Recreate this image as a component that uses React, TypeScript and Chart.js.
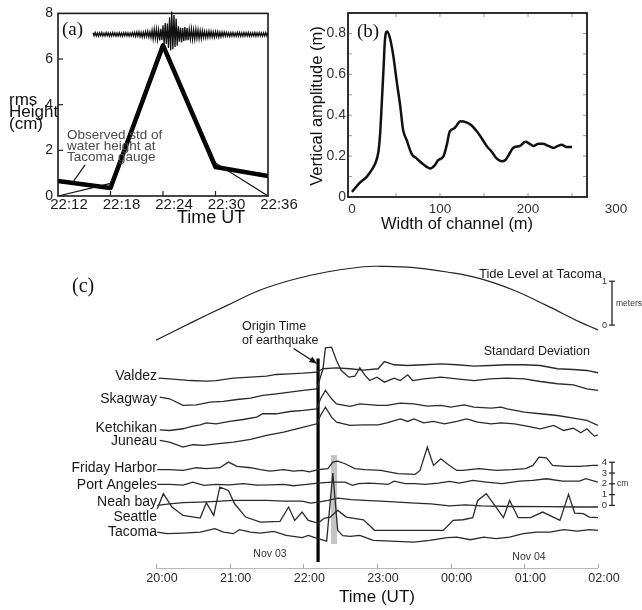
import React, { useEffect, useRef } from 'react';
import { Chart, registerables } from 'chart.js';
Chart.register(...registerables);

const SANS = '"Liberation Sans", Arial, Helvetica, sans-serif';
const SERIF = '"Liberation Serif", "Times New Roman", serif';
const PAGE_W = 642;
const PAGE_H = 610;

// ---------------- Panel (a) ----------------
const aTimes = [12, 18, 24, 30, 36]; // minutes after 22:00
const aObservedStd = [0.66, 0.35, 6.6, 1.27, 0.87];
const aModelStd = [0, 0.55, 6.6, 1.45, 0];
const aLeader = [[15.1, 1.36], [13.7, 0.61]];
const seisStartMin = 16;
const seisStepMin = 0.125;
const seisLevel = 7.08;
const seisTrace = [
  0.07, -0.06, 0.08, -0.07, 0.06, -0.08, 0.07, -0.06, 0.08, -0.07,
  0.06, -0.07, 0.08, -0.06, 0.07, -0.08, 0.06, -0.07, 0.08, -0.06,
  0.07, -0.08, 0.06, -0.07, 0.08, -0.07, 0.06, -0.08, 0.07, -0.06,
  0.08, -0.07, 0.07, -0.08, 0.06, -0.07, 0.08, -0.07, 0.09,
  -0.09, 0.1, -0.08, 0.11, -0.1, 0.09, -0.12, 0.1, -0.11, 0.12, -0.1, 0.13, -0.12, 0.11, -0.14,
  0.18, -0.2, 0.22, -0.18, 0.24, -0.22, 0.2, -0.26, 0.25, -0.24,
  0.4, -0.45, 0.5, -0.42, 0.48,
  -0.6, 0.75, -0.7, 1.0, -0.65, 0.85, -0.55, 0.7, -0.5,
  0.35, -0.32, 0.3, -0.35, 0.28, -0.3, 0.32, -0.26, 0.28, -0.25,
  0.22, -0.2, 0.24, -0.22, 0.2, -0.21, 0.22, -0.18, 0.2, -0.19, 0.17, -0.18, 0.16,
  -0.14, 0.13, -0.15, 0.12, -0.13, 0.14, -0.12, 0.13, -0.12, 0.11,
  -0.13, 0.12, -0.1, 0.11, -0.12, 0.1, -0.11, 0.1, -0.09, 0.1,
  -0.08, 0.09, -0.08, 0.07, -0.09, 0.08, -0.07, 0.08, -0.08, 0.07,
  -0.08, 0.09, -0.07, 0.08, -0.08, 0.07, -0.08, 0.08, -0.07, 0.08,
  -0.07, 0.08, -0.08, 0.07, -0.08, 0.07, -0.07, 0.08, -0.08, 0.07,
  -0.07, 0.08, -0.07, 0.07, -0.08, 0.07, -0.07, 0.08, -0.07, 0.07,
];

// ---------------- Panel (b) ----------------
const bChannelWidth = [0, 9, 17, 22, 26, 30, 32, 34, 36, 37.5, 40, 43, 47, 51, 55, 58, 62, 68, 73, 81, 89, 94, 98, 104, 108, 111, 116, 119, 123, 130, 136, 142, 147, 153, 159, 164, 170, 174, 180, 183, 191, 197, 202, 206, 212, 217, 223, 229, 234, 238, 244, 250];
const bVerticalAmp = [0.025, 0.07, 0.1, 0.13, 0.16, 0.22, 0.31, 0.47, 0.64, 0.77, 0.81, 0.78, 0.69, 0.56, 0.44, 0.33, 0.28, 0.21, 0.19, 0.16, 0.14, 0.155, 0.18, 0.2, 0.26, 0.32, 0.335, 0.35, 0.37, 0.365, 0.35, 0.32, 0.29, 0.25, 0.22, 0.19, 0.175, 0.18, 0.22, 0.24, 0.25, 0.27, 0.26, 0.25, 0.26, 0.26, 0.25, 0.24, 0.25, 0.255, 0.245, 0.245];
const bXTicks = [0, 100, 200, 300];

// ---------------- Panel (c) ----------------
// x: minutes after 20:00 UT (Nov 03); y: stacked std deviation level (cm)
const cHourLabels = ['20:00', '21:00', '22:00', '23:00', '00:00', '01:00', '02:00'];
const tideMinutes = [0, 30, 58, 85, 112, 139, 169, 182, 210, 237, 264, 291, 318, 345, 360];
const tideMeters = [-0.34, 0.075, 0.45, 0.8, 1.04, 1.21, 1.33, 1.34, 1.31, 1.21, 1.06, 0.8, 0.45, 0.075, -0.11];
const tideBaseLevel = 16.7; // where 0 m sits on the stacked axis
const tideUnitsPerMeter = 4.07;

const valdez = [[2, 11.79], [11, 11.73], [28, 11.57], [41, 11.51], [49, 11.57], [63, 11.79], [77, 11.88], [90, 11.97], [98, 12.13], [109, 12.19], [120, 12.25], [131, 12.34], [136, 12.66], [147, 12.75], [158, 12.66], [169, 12.53], [181, 12.66], [186, 13.33], [194, 13.03], [205, 12.96], [218, 13.03], [232, 13.12], [245, 13.03], [259, 12.9], [272, 12.96], [286, 13.03], [300, 13.03], [313, 12.96], [327, 12.66], [340, 12.59], [351, 12.5], [360, 12.29]];
const skagway = [[3, 10.03], [11, 9.88], [22, 9.26], [33, 9.32], [44, 9.56], [55, 9.63], [66, 9.81], [77, 9.94], [87, 10.19], [98, 10.34], [109, 10.49], [120, 10.65], [131, 10.8], [136, 12.66], [138, 14.6], [143, 14.66], [147, 13.43], [151, 12.5], [157, 11.88], [162, 11.97], [166, 12.75], [170, 12.1], [174, 11.57], [180, 11.88], [186, 11.42], [194, 11.79], [199, 11.57], [205, 12.1], [209, 11.57], [218, 11.73], [232, 11.88], [245, 11.73], [259, 11.57], [272, 11.73], [286, 11.79], [300, 11.73], [313, 11.48], [327, 11.27], [340, 11.17], [351, 10.8], [360, 10.65]];
const ketchikan = [[3, 7.0], [11, 6.94], [22, 7.1], [30, 7.35], [36, 7.47], [41, 7.65], [49, 7.56], [60, 7.78], [71, 7.96], [82, 8.18], [87, 8.49], [98, 8.49], [109, 8.7], [120, 8.8], [131, 8.95], [134, 9.88], [138, 10.65], [143, 9.88], [147, 9.41], [158, 9.17], [166, 9.41], [181, 9.26], [188, 9.26], [199, 9.47], [210, 9.41], [221, 9.2], [232, 9.26], [240, 9.1], [251, 9.32], [259, 9.1], [273, 9.01], [281, 9.1], [286, 8.95], [300, 8.64], [313, 8.49], [327, 8.33], [340, 8.08], [351, 7.87], [360, 7.41]];
const juneau = [[3, 6.02], [11, 5.86], [22, 5.4], [30, 5.62], [39, 5.56], [49, 5.71], [63, 5.86], [77, 6.11], [90, 6.48], [104, 6.79], [117, 7.16], [131, 7.56], [134, 8.33], [138, 9.1], [143, 8.18], [147, 7.71], [158, 7.41], [169, 7.47], [181, 7.47], [188, 7.65], [199, 8.02], [205, 7.78], [210, 8.02], [218, 7.65], [226, 7.78], [235, 7.56], [245, 7.78], [253, 8.02], [262, 7.72], [273, 7.56], [281, 7.65], [292, 7.56], [302, 7.35], [313, 7.1], [324, 7.41], [332, 6.94], [340, 7.16], [346, 6.73], [351, 7.1], [357, 6.42], [360, 6.54]];
const fridayHarbor = [[1, 3.31], [11, 3.31], [22, 3.24], [33, 3.49], [41, 3.4], [52, 3.49], [59, 4.01], [66, 3.61], [77, 3.49], [85, 3.31], [93, 3.18], [104, 3.31], [112, 3.18], [119, 3.24], [125, 3.1], [132, 3.31], [140, 3.4], [144, 4.01], [148, 4.1], [154, 3.86], [162, 3.4], [170, 3.31], [183, 3.24], [197, 2.94], [211, 2.87], [215, 3.24], [221, 5.4], [226, 3.7], [232, 4.32], [239, 3.7], [245, 3.24], [250, 3.24], [263, 3.4], [277, 3.24], [290, 3.31], [301, 3.4], [307, 3.7], [312, 4.47], [318, 4.41], [323, 3.7], [334, 3.61], [345, 3.61], [356, 3.7], [360, 3.7]];
const portAngeles = [[1, 1.94], [11, 1.94], [22, 1.88], [30, 2.16], [39, 1.85], [49, 1.94], [60, 1.91], [71, 2.01], [82, 1.88], [93, 1.91], [104, 1.94], [112, 1.82], [119, 1.91], [132, 2.07], [143, 2.16], [154, 2.16], [160, 1.85], [165, 2.01], [173, 2.07], [181, 2.01], [189, 1.94], [194, 2.25], [203, 2.01], [211, 2.01], [219, 1.94], [230, 2.07], [239, 2.22], [247, 2.07], [258, 2.31], [269, 2.16], [282, 2.01], [296, 2.25], [307, 2.31], [318, 2.47], [331, 2.25], [345, 2.25], [350, 2.47], [360, 2.16]];
const neahBay = [[1, 0], [11, 0.15], [22, 0.25], [36, 0.31], [49, 0.37], [63, 0.46], [77, 0.46], [90, 0.46], [104, 0.4], [119, 0.4], [126, 0.22], [132, 0.31], [140, 0.46], [148, 0.68], [159, 0.53], [170, 0.46], [183, 0.4], [197, 0.31], [211, 0.22], [224, 0.15], [239, -0.05], [252, 0.05], [265, -0.05], [290, -0.1], [318, -0.12], [345, -0.15], [360, -0.15]];
const seattle = [[1, -0.31], [6, 1.08], [13, -0.15], [22, -0.93], [36, -1.17], [41, 0.25], [47, -0.93], [52, 1.69], [59, 1.39], [64, 0.15], [73, -1.08], [85, -1.55], [101, -1.48], [108, -0.15], [113, -1.39], [119, -0.62], [124, -1.39], [132, -1.64], [137, -1.2], [142, -1.08], [148, -0.46], [155, -1.08], [169, -1.33], [178, -2.31], [196, -2.31], [234, -2.31], [242, -1.39], [250, -1.33], [258, -1.14], [262, 0.46], [269, 1.08], [283, -1.14], [288, 0.46], [295, -1.14], [305, -1.14], [315, -0.62], [329, -1.39], [336, 1.02], [341, -0.71], [348, -0.77], [353, -1.08], [360, -1.14]];
const tacoma = [[1, -2.47], [9, -2.62], [22, -2.56], [36, -2.47], [48, -2.16], [55, -2.47], [63, -2.62], [68, -2.25], [77, -2.47], [85, -2.56], [96, -2.41], [106, -2.78], [119, -2.99], [124, -2.78], [132, -3.08], [139, -3.31], [144, 2.99], [148, -2.31], [152, -2.8], [158, -2.87], [166, -2.78], [177, -3.24], [196, -3.33], [210, -3.4], [223, -3.24], [237, -2.99], [245, -2.94], [256, -3.18], [267, -2.94], [277, -3.08], [288, -2.94], [299, -2.62], [310, -2.47], [321, -2.47], [332, -2.25], [343, -2.38], [353, -2.25], [360, -2.31]];

const stationNames = ['Valdez', 'Skagway', 'Ketchikan', 'Juneau', 'Friday Harbor', 'Port Angeles', 'Neah bay', 'Seattle', 'Tacoma'];
const stationSeries = [valdez, skagway, ketchikan, juneau, fridayHarbor, portAngeles, neahBay, seattle, tacoma];
const stationLabelLevel = [11.94, 9.86, 7.13, 5.93, 3.43, 1.85, 0.28, -1.11, -2.5];

const originMinute = 132;
const originTop = 13.6;
const originBottom = -5.25;
const originArrow = [[112, 14.54], [131, 13.15]];
const bandStart = 142.5;
const bandEnd = 147.5;
const bandTop = 4.66;
const bandBottom = -3.58;
const cmBarValues = [0, 1, 2, 3, 4];

// ---------------- helpers ----------------
function txt(ctx: any, s: string, x: number, y: number, size: number, align: any = 'left', color = '#111', family = SANS) {
  ctx.save();
  ctx.font = `${size}px ${family}`;
  ctx.fillStyle = color;
  ctx.textAlign = align;
  ctx.textBaseline = 'middle';
  ctx.fillText(s, x, y);
  ctx.restore();
}
function line(ctx: any, x1: number, y1: number, x2: number, y2: number, color = '#111', w = 1) {
  ctx.save();
  ctx.strokeStyle = color;
  ctx.lineWidth = w;
  ctx.beginPath();
  ctx.moveTo(x1, y1);
  ctx.lineTo(x2, y2);
  ctx.stroke();
  ctx.restore();
}
const pts = (xs: number[], ys: number[]) => xs.map((x, i) => ({ x, y: ys[i] }));
const pairs = (a: number[][]) => a.map(([x, y]) => ({ x, y }));
const baseOpts = {
  responsive: false,
  animation: false,
  devicePixelRatio: 1,
  events: [],
  plugins: { legend: { display: false }, tooltip: { enabled: false }, title: { display: false } },
  elements: { point: { radius: 0 }, line: { tension: 0 } },
};

// ---------------- configs ----------------
function configA(): any {
  const plugin = {
    id: 'panelA',
    afterDraw(chart: any) {
      const { ctx, chartArea: ca, scales: { x, y } } = chart;
      ctx.save();
      ctx.strokeStyle = '#1a1a1a';
      ctx.lineWidth = 1.6;
      ctx.strokeRect(ca.left, ca.top, ca.right - ca.left, ca.bottom - ca.top);
      ctx.restore();
      [2, 4, 6].forEach((v) => line(ctx, ca.left, y.getPixelForValue(v), ca.left + 5, y.getPixelForValue(v), '#222', 1.2));
      [18, 24, 30].forEach((v) => line(ctx, x.getPixelForValue(v), ca.bottom, x.getPixelForValue(v), ca.bottom - 5, '#222', 1.2));
      line(ctx, x.getPixelForValue(aLeader[0][0]), y.getPixelForValue(aLeader[0][1]), x.getPixelForValue(aLeader[1][0]), y.getPixelForValue(aLeader[1][1]), '#222', 1.3);
      txt(ctx, '(a)', 62, 30, 19, 'left', '#111', SERIF);
      txt(ctx, 'rms', 9, 100, 17);
      txt(ctx, 'Height', 9, 112, 17);
      txt(ctx, '(cm)', 9, 124, 17);
      txt(ctx, 'Observed std of', 67, 135, 13.5, 'left', '#4a4a4a');
      txt(ctx, 'water height at', 67, 146, 13.5, 'left', '#4a4a4a');
      txt(ctx, 'Tacoma gauge', 67, 157, 13.5, 'left', '#4a4a4a');
      txt(ctx, 'Time UT', 177, 218, 18);
    },
  };
  return {
    type: 'line',
    data: {
      datasets: [
        { data: seisTrace.map((d, i) => ({ x: seisStartMin + i * seisStepMin, y: seisLevel + d })), borderColor: '#111', borderWidth: 1.3, clip: false },
        { data: pts(aTimes, aModelStd), borderColor: '#111', borderWidth: 1.2 },
        { data: pts(aTimes, aObservedStd), borderColor: '#000', borderWidth: 4.5, borderJoinStyle: 'round' },
      ],
    },
    options: {
      ...baseOpts,
      layout: { padding: { left: 28, right: 374, top: 13, bottom: 384 } },
      scales: {
        x: {
          type: 'linear', min: 12, max: 36,
          grid: { display: false, drawTicks: false }, border: { display: false },
          ticks: { stepSize: 6, autoSkip: false, maxRotation: 0, labelOffset: 11, padding: 0, color: '#1a1a1a', font: { size: 15, family: SANS }, callback: (v: number) => '22:' + v },
          afterFit: (s: any) => { s.height = 30; },
        },
        y: {
          min: 0, max: 8,
          grid: { display: false, drawTicks: false }, border: { display: false },
          ticks: { stepSize: 2, padding: 5, color: '#1a1a1a', font: { size: 14, family: SANS } },
          afterFit: (s: any) => { s.width = 30; },
        },
      },
    },
    plugins: [plugin],
  };
}

function configB(): any {
  const plugin = {
    id: 'panelB',
    afterDraw(chart: any) {
      const { ctx, chartArea: ca, scales: { x, y } } = chart;
      for (let v = 0.1; v < 0.89; v += 0.1) {
        const py = y.getPixelForValue(v);
        line(ctx, ca.left, py, ca.left + 4, py, '#9a9a9a', 1);
        line(ctx, ca.right, py, ca.right - 4, py, '#9a9a9a', 1);
      }
      for (let v = 50; v < 260; v += 50) {
        const px = x.getPixelForValue(v);
        line(ctx, px, ca.top, px, ca.top + 4, '#9a9a9a', 1);
        line(ctx, px, ca.bottom, px, ca.bottom - 4, '#9a9a9a', 1);
      }
      ctx.save();
      ctx.strokeStyle = '#1a1a1a';
      ctx.lineWidth = 1.8;
      ctx.strokeRect(ca.left, ca.top, ca.right - ca.left, ca.bottom - ca.top);
      ctx.restore();
      bXTicks.forEach((v) => txt(ctx, String(v), x.getPixelForValue(v), 209, 13.5, 'center', '#333'));
      txt(ctx, '(b)', 357, 32, 19, 'left', '#111', SERIF);
      ctx.save();
      ctx.translate(317, 106);
      ctx.rotate(-Math.PI / 2);
      txt(ctx, 'Vertical amplitude (m)', 0, 0, 16.5, 'center', '#111');
      ctx.restore();
      txt(ctx, 'Width of channel (m)', 457, 224, 16.5, 'center', '#111');
    },
  };
  return {
    type: 'line',
    data: { datasets: [{ data: pts(bChannelWidth, bVerticalAmp), borderColor: '#111', borderWidth: 2.5, cubicInterpolationMode: 'monotone' }] },
    options: {
      ...baseOpts,
      layout: { padding: { left: 318, right: 55, top: 13, bottom: 413 } },
      scales: {
        x: {
          type: 'linear', min: -4.5, max: 267,
          grid: { display: false, drawTicks: false }, border: { display: false },
          ticks: { display: false },
          afterFit: (s: any) => { s.height = 0; },
        },
        y: {
          min: 0, max: 0.9,
          grid: { display: false, drawTicks: false }, border: { display: false },
          ticks: { stepSize: 0.2, includeBounds: false, padding: 2, color: '#333', font: { size: 14, family: SANS }, callback: (v: number) => (v === 0 ? '0' : v.toFixed(1)) },
          afterFit: (s: any) => { s.width = 30; },
        },
      },
    },
    plugins: [plugin],
  };
}

function configC(): any {
  const plugin = {
    id: 'panelC',
    beforeDatasetsDraw(chart: any) {
      const { ctx, scales: { x, y } } = chart;
      const x1 = x.getPixelForValue(bandStart);
      const x2 = x.getPixelForValue(bandEnd);
      const y1 = y.getPixelForValue(bandTop);
      const y2 = y.getPixelForValue(bandBottom);
      ctx.save();
      ctx.fillStyle = '#c4c4c4';
      ctx.fillRect(x1, y1, x2 - x1, y2 - y1);
      ctx.restore();
    },
    afterDraw(chart: any) {
      const { ctx, chartArea: ca, scales: { x, y } } = chart;
      line(ctx, ca.left, ca.bottom + 0.5, ca.right, ca.bottom + 0.5, '#b8b8b8', 1);
      for (let m = 0; m <= 360; m += 60) {
        const px = Math.round(x.getPixelForValue(m)) + 0.5;
        line(ctx, px, ca.bottom - 4, px, ca.bottom, '#a8a8a8', 1);
      }
      stationNames.forEach((n, i) => txt(ctx, n, ca.left + 1, y.getPixelForValue(stationLabelLevel[i]), 14, 'right', '#1a1a1a'));
      const ax1 = x.getPixelForValue(originArrow[0][0]);
      const ay1 = y.getPixelForValue(originArrow[0][1]);
      const ax2 = x.getPixelForValue(originArrow[1][0]);
      const ay2 = y.getPixelForValue(originArrow[1][1]);
      line(ctx, ax1, ay1, ax2, ay2, '#111', 1.3);
      const ang = Math.atan2(ay2 - ay1, ax2 - ax1);
      ctx.save();
      ctx.fillStyle = '#111';
      ctx.beginPath();
      ctx.moveTo(ax2, ay2);
      ctx.lineTo(ax2 - 8 * Math.cos(ang - 0.4), ay2 - 8 * Math.sin(ang - 0.4));
      ctx.lineTo(ax2 - 8 * Math.cos(ang + 0.4), ay2 - 8 * Math.sin(ang + 0.4));
      ctx.closePath();
      ctx.fill();
      ctx.restore();
      const bx = ca.right + 14;
      const t0 = y.getPixelForValue(tideBaseLevel);
      const t1 = y.getPixelForValue(tideBaseLevel + tideUnitsPerMeter);
      line(ctx, bx, t0, bx, t1, '#222', 1.3);
      line(ctx, bx - 3, t0, bx + 3, t0, '#222', 1.2);
      line(ctx, bx - 3, t1, bx + 3, t1, '#222', 1.2);
      txt(ctx, '0', bx - 5, t0, 9, 'right', '#333');
      txt(ctx, '1', bx - 5, t1, 9, 'right', '#333');
      txt(ctx, 'meters', bx + 4, (t0 + t1) / 2, 8.5, 'left', '#333');
      const c0 = y.getPixelForValue(cmBarValues[0]);
      const c1 = y.getPixelForValue(cmBarValues[cmBarValues.length - 1]);
      line(ctx, bx, c0, bx, c1, '#222', 1.3);
      cmBarValues.forEach((v) => {
        const py = y.getPixelForValue(v);
        line(ctx, bx - 3, py, bx + 3, py, '#222', 1.2);
        txt(ctx, String(v), bx - 5, py, 9.5, 'right', '#333');
      });
      txt(ctx, 'cm', bx + 5, y.getPixelForValue(2), 8.5, 'left', '#333');
      txt(ctx, '(c)', 72, 287, 20, 'left', '#111', SERIF);
      txt(ctx, 'Tide Level at Tacoma', 602, 274, 13, 'right', '#1a1a1a');
      txt(ctx, 'Standard Deviation', 590, 352, 12.5, 'right', '#1a1a1a');
      txt(ctx, 'Origin Time', 242, 327, 12.5, 'left', '#1a1a1a');
      txt(ctx, 'of earthquake', 242, 341, 12.5, 'left', '#1a1a1a');
      txt(ctx, 'Nov 03', 270, 554, 10.5, 'center', '#333');
      txt(ctx, 'Nov 04', 529, 557, 10.5, 'center', '#333');
      txt(ctx, 'Time (UT)', 377, 597, 17, 'center', '#111');
    },
  };
  const tide = tideMinutes.map((m, i) => ({ x: m, y: tideBaseLevel + tideMeters[i] * tideUnitsPerMeter }));
  return {
    type: 'line',
    data: {
      datasets: [
        { data: tide, borderColor: '#222', borderWidth: 1.2, tension: 0.4 },
        ...stationSeries.map((s) => ({ data: pairs(s), borderColor: '#2a2a2a', borderWidth: 1.3 })),
        { data: [{ x: originMinute, y: originTop }, { x: originMinute, y: originBottom }], borderColor: '#000', borderWidth: 3.2 },
      ],
    },
    options: {
      ...baseOpts,
      layout: { padding: { left: 156, right: 44, top: 255, bottom: 22 } },
      scales: {
        x: {
          type: 'linear', min: 0, max: 360,
          grid: { display: false, drawTicks: false }, border: { display: false },
          ticks: { stepSize: 60, autoSkip: false, maxRotation: 0, labelOffset: 6, padding: 3, color: '#2a2a2a', font: { size: 12.5, family: SANS }, callback: (v: number) => cHourLabels[Math.round(v / 60)] },
          afterFit: (s: any) => { s.height = 20; },
        },
        y: { display: false, min: -5.8, max: 23.2 },
      },
    },
    plugins: [plugin],
  };
}

export default function App() {
  const refA = useRef<HTMLCanvasElement>(null);
  const refB = useRef<HTMLCanvasElement>(null);
  const refC = useRef<HTMLCanvasElement>(null);
  useEffect(() => {
    document.body.style.margin = '0';
    document.body.style.overflow = 'hidden';
    const charts = [
      new Chart(refA.current as HTMLCanvasElement, configA()),
      new Chart(refB.current as HTMLCanvasElement, configB()),
      new Chart(refC.current as HTMLCanvasElement, configC()),
    ];
    return () => charts.forEach((c) => c.destroy());
  }, []);
  const cs: any = { position: 'absolute', left: 0, top: 0, width: PAGE_W, height: PAGE_H };
  return (
    <div style={{ position: 'relative', width: PAGE_W, height: PAGE_H, background: '#fff', overflow: 'hidden' }}>
      <canvas ref={refA} width={PAGE_W} height={PAGE_H} style={cs} />
      <canvas ref={refB} width={PAGE_W} height={PAGE_H} style={cs} />
      <canvas ref={refC} width={PAGE_W} height={PAGE_H} style={cs} />
    </div>
  );
}
